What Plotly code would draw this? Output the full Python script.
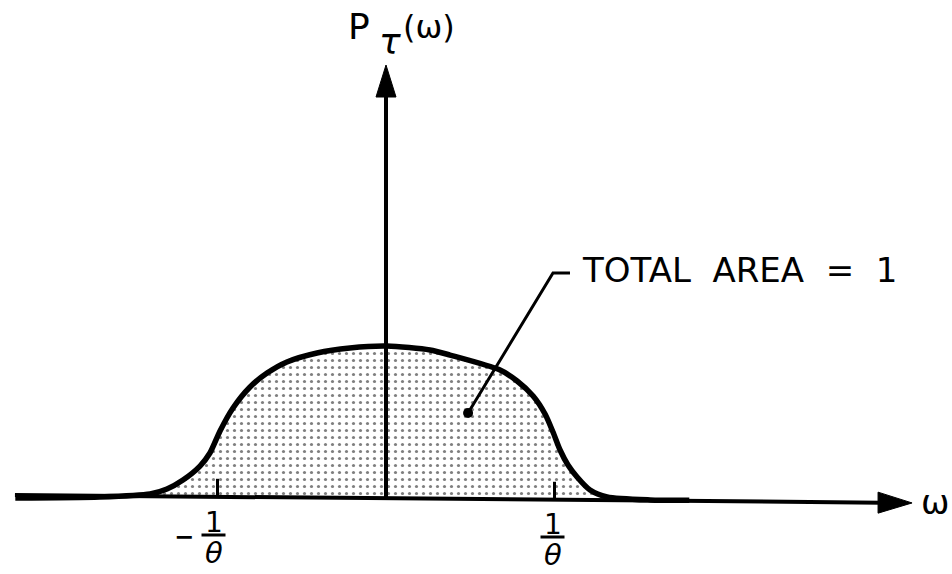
import plotly.graph_objects as go

# Spectral density P_tau(omega); omega in units of 1/theta, P normalised to its peak
omega = [-2.20, -1.70, -1.40, -1.30, -1.205, -1.104, -1.045, -0.985, -0.908, -0.807,
         -0.706, -0.588, -0.409, -0.214, 0.006, 0.261, 0.380, 0.677, 0.778, 0.873,
         0.944, 0.991, 1.033, 1.080, 1.134, 1.211, 1.312, 1.567, 1.80]
p_tau = [0.000, 0.007, 0.027, 0.060, 0.120, 0.213, 0.300, 0.447, 0.600, 0.740,
         0.833, 0.907, 0.967, 1.000, 1.013, 0.987, 0.953, 0.853, 0.780, 0.680,
         0.560, 0.440, 0.320, 0.220, 0.140, 0.053, 0.007, -0.013, -0.015]

tick_omega = [-1.0, 1.0]
tick_sign = ["−", ""]

# drawing scale (pixels per unit) used for arrowheads and small offsets
PX_X = 168.5
PX_Y = 150.0
INK = "#000000"

X_RANGE = [-386 / PX_X, 566 / PX_X]
Y_RANGE = [-76 / PX_Y, 498 / PX_Y]

fig = go.Figure()

# stippled area under the curve
fig.add_trace(go.Scatter(
    x=omega, y=p_tau, mode="lines", line=dict(color=INK, width=5.5, shape="spline", smoothing=0.7),
    fill="tozeroy", fillcolor="white",
    fillpattern=dict(shape=".", size=7, solidity=0.16, fgcolor=INK, bgcolor="white"),
    hoverinfo="skip", showlegend=False))

# omega axis (slightly tilted ink line) with arrowhead
ax_x0, ax_y0 = -2.202, 0.020
ax_x1, ax_y1 = 3.122, -0.033
head_len, head_half = 34 / PX_X, 10.5 / PX_Y
slope = (ax_y1 - ax_y0) / (ax_x1 - ax_x0)
base_x = ax_x1 - head_len
base_y = ax_y1 - slope * head_len
fig.add_trace(go.Scatter(x=[ax_x0, base_x + 0.02], y=[ax_y0, base_y], mode="lines",
                         line=dict(color=INK, width=4), hoverinfo="skip", showlegend=False))
fig.add_trace(go.Scatter(x=[ax_x1, base_x, base_x, ax_x1], y=[ax_y1, base_y + head_half, base_y - head_half, ax_y1],
                         mode="lines", fill="toself", fillcolor=INK, line=dict(color=INK, width=1),
                         hoverinfo="skip", showlegend=False))

# P axis with arrowhead
p_tip = 433 / PX_Y
p_head_len, p_head_half = 32 / PX_Y, 10 / PX_X
fig.add_trace(go.Scatter(x=[0, 0], y=[0, p_tip - p_head_len + 0.02], mode="lines",
                         line=dict(color=INK, width=4), hoverinfo="skip", showlegend=False))
fig.add_trace(go.Scatter(x=[0, -p_head_half, p_head_half, 0],
                         y=[p_tip, p_tip - p_head_len, p_tip - p_head_len, p_tip],
                         mode="lines", fill="toself", fillcolor=INK, line=dict(color=INK, width=1),
                         hoverinfo="skip", showlegend=False))

# tick marks at +-1/theta
tick_h = 18 / PX_Y
for t in tick_omega:
    yb = ax_y0 + slope * (t - ax_x0)
    fig.add_trace(go.Scatter(x=[t, t], y=[yb, yb + tick_h], mode="lines",
                             line=dict(color=INK, width=3), hoverinfo="skip", showlegend=False))

# leader to the area label
dot_x, dot_y = 0.487, 0.567
bend_x, bend_y = 0.991, 1.500
fig.add_trace(go.Scatter(x=[dot_x, bend_x, bend_x + 17 / PX_X], y=[dot_y, bend_y, bend_y], mode="lines",
                         line=dict(color=INK, width=3), hoverinfo="skip", showlegend=False))
fig.add_trace(go.Scatter(x=[dot_x], y=[dot_y], mode="markers",
                         marker=dict(color=INK, size=10), hoverinfo="skip", showlegend=False))

FONT = "DejaVu Sans"
ann = []
ann.append(dict(x=bend_x + 27 / PX_X, y=bend_y + 0.02, text="TOTAL  AREA  =  1", xanchor="left",
                yanchor="middle", showarrow=False, font=dict(family=FONT, size=34, color=INK)))
# P_tau(omega) axis title
ann.append(dict(x=-27 / PX_X, y=472 / PX_Y, text="P", showarrow=False,
                font=dict(family=FONT, size=36, color=INK)))
ann.append(dict(x=4 / PX_X, y=457 / PX_Y, text="τ", showarrow=False,
                font=dict(family=FONT, size=36, color=INK, style="italic")))
ann.append(dict(x=43 / PX_X, y=471 / PX_Y, text="(ω)", showarrow=False,
                font=dict(family=FONT, size=32, color=INK)))
# omega axis title
ann.append(dict(x=549 / PX_X, y=-4 / PX_Y, text="ω", showarrow=False,
                font=dict(family=FONT, size=34, color=INK)))

# fraction tick labels  (+-)1/theta
shapes = []
shifts = [(-4, 1), (-2, -1)]
for t, sgn, (dx, dy) in zip(tick_omega, tick_sign, shifts):
    cx = t + dx / PX_X
    ann.append(dict(x=cx, y=(-25 + dy) / PX_Y, text="1", showarrow=False,
                    font=dict(family=FONT, size=28, color=INK)))
    bar_y = (-38 + dy) / PX_Y
    shapes.append(dict(type="line", x0=cx - 12 / PX_X, x1=cx + 12 / PX_X, y0=bar_y, y1=bar_y,
                       xref="x", yref="y", line=dict(color=INK, width=3)))
    ann.append(dict(x=cx, y=(-56 + dy) / PX_Y, text="θ", showarrow=False, borderpad=0,
                    font=dict(family=FONT, size=29, color=INK, style="italic")))
    if sgn:
        ann.append(dict(x=cx - 30 / PX_X, y=(-40 + dy) / PX_Y, text="<b>" + sgn + "</b>", showarrow=False,
                        font=dict(family=FONT, size=24, color=INK)))

fig.update_layout(
    width=952, height=574, autosize=False,
    margin=dict(l=0, r=0, t=0, b=0, pad=0),
    paper_bgcolor="white", plot_bgcolor="white",
    xaxis=dict(range=X_RANGE, visible=False, fixedrange=True),
    yaxis=dict(range=Y_RANGE, visible=False, fixedrange=True),
    annotations=ann, shapes=shapes, showlegend=False,
)

fig.write_html("out.html")
